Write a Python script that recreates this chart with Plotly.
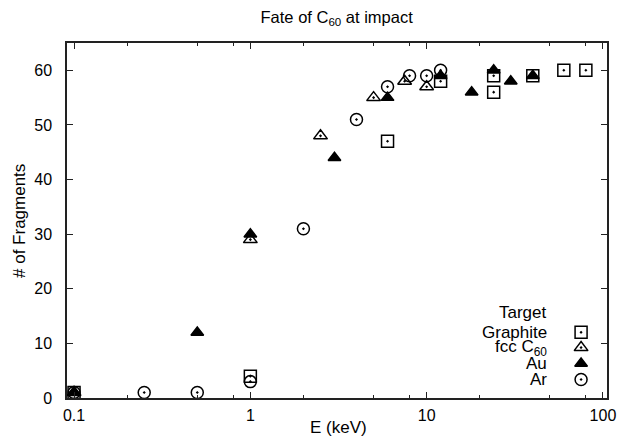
import plotly.graph_objects as go

# ---- data ----
graphite_E = [0.1, 1, 6, 12, 24, 24, 40, 60, 80]
graphite_N = [1, 4, 47, 58, 59, 56, 59, 60, 60]

fcc_E = [0.1, 1, 2.5, 5, 7.5, 10]
fcc_N = [1, 29, 48, 55, 58, 57]

au_E = [0.1, 0.5, 1, 3, 6, 12, 18, 24, 30, 40]
au_N = [1, 12, 30, 44, 55, 59, 56, 60, 58, 59]

ar_E = [0.1, 0.25, 0.5, 1, 2, 4, 6, 8, 10, 12]
ar_N = [1, 1, 1, 3, 31, 51, 57, 59, 59, 60]

series_names = ["Graphite", "fcc C<sub>60</sub>", "Au", "Ar"]
x_major = [0.1, 1, 10, 100]
x_major_text = ["0.1", "1", "10", "100"]
x_minor = [0.2, 0.5, 0.8, 2, 5, 8, 20, 50, 80]
y_ticks = [0, 10, 20, 30, 40, 50, 60]

FONT = "Liberation Sans, Arial, Helvetica, sans-serif"
symbols = ["square-open-dot", "triangle-up-open-dot", "triangle-up", "circle-open-dot"]
sizes = [12, 12, 11, 12]

fig = go.Figure()
data = [(graphite_E, graphite_N), (fcc_E, fcc_N), (au_E, au_N), (ar_E, ar_N)]
for (xs, ys), sym, sz, nm in zip(data, symbols, sizes, series_names):
    fig.add_trace(go.Scatter(
        x=xs, y=ys, mode="markers", name=nm, showlegend=False,
        marker=dict(symbol=sym, size=sz, color="black",
                    line=dict(color="black", width=1.5)),
        cliponaxis=False,
    ))

# custom legend (symbols right of right-aligned text, gnuplot style)
leg_y = [0.185, 0.142, 0.097, 0.052]
for sym, sz, ly in zip(symbols, sizes, leg_y):
    fig.add_trace(go.Scatter(
        x=[0.952], y=[ly], xaxis="x2", yaxis="y2", mode="markers",
        showlegend=False, hoverinfo="skip",
        marker=dict(symbol=sym, size=sz, color="black",
                    line=dict(color="black", width=1.5)),
    ))

LEG_FONT = dict(size=17, color="black", family=FONT)
annotations = [dict(text="Target", x=0.893, y=0.241, xref="paper", yref="paper",
                    xanchor="right", yanchor="middle", showarrow=False, font=LEG_FONT)]
for nm, ly in zip(series_names, leg_y):
    annotations.append(dict(text=nm, x=0.893, y=ly, xref="paper", yref="paper",
                            xanchor="right", yanchor="middle", showarrow=False,
                            font=LEG_FONT))

# axis titles
annotations.append(dict(text="E (keV)", x=0.502, y=-0.083, xref="paper", yref="paper",
                        xanchor="center", yanchor="middle", showarrow=False,
                        font=dict(size=17, color="black", family=FONT)))
annotations.append(dict(text="# of Fragments", x=-0.088, y=0.5, xref="paper", yref="paper",
                        xanchor="center", yanchor="middle", showarrow=False, textangle=-90,
                        font=dict(size=17, color="black", family=FONT)))

axis_common = dict(
    showline=True, linecolor="#222", linewidth=1.5, mirror="ticks",
    ticks="inside", ticklen=6, tickwidth=1.2, tickcolor="#222",
    showgrid=False, zeroline=False, automargin=False,
    tickfont=dict(size=16, color="black", family=FONT),
)

fig.update_layout(
    width=620, height=442,
    margin=dict(l=67, r=13, t=43, b=44),
    paper_bgcolor="white", plot_bgcolor="white",
    font=dict(family=FONT, color="black"),
    title=dict(text="Fate of C<sub>60</sub> at impact", x=0.543, xanchor="center",
               y=0.962, yanchor="middle", font=dict(size=16.5, color="black", family=FONT)),
    xaxis=dict(
        type="log", range=[-1.04, 2.023],
        tickmode="array", tickvals=x_major, ticktext=x_major_text,
        minor=dict(tickmode="array", tickvals=x_minor, ticks="inside",
                   ticklen=3, tickwidth=1.2, tickcolor="#222", showgrid=False),
        ticklabelstandoff=2,
        **axis_common,
    ),
    yaxis=dict(
        range=[0, 65], tickmode="array", tickvals=y_ticks,
        ticklabelstandoff=10,
        **axis_common,
    ),
    xaxis2=dict(domain=[0, 1], range=[0, 1], visible=False, overlaying="x", anchor="y2"),
    yaxis2=dict(domain=[0, 1], range=[0, 1], visible=False, overlaying="y", anchor="x2"),
    annotations=annotations,
)

fig.write_html("out.html")
